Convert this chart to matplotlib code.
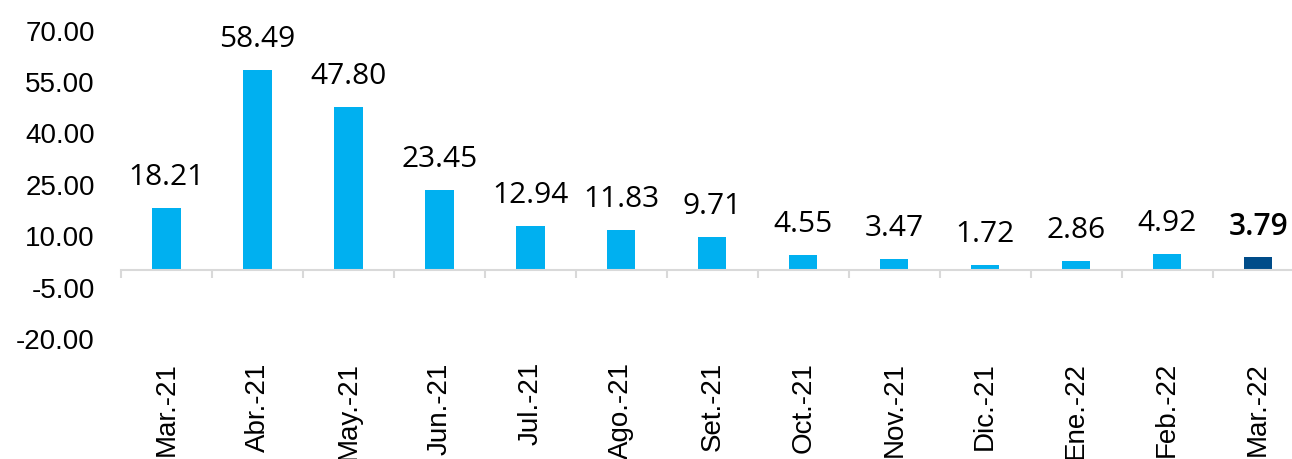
import matplotlib.pyplot as plt
import numpy as np

months = ["Mar.-21", "Abr.-21", "May.-21", "Jun.-21", "Jul.-21", "Ago.-21",
          "Set.-21", "Oct.-21", "Nov.-21", "Dic.-21", "Ene.-22", "Feb.-22",
          "Mar.-22"]
values = [18.21, 58.49, 47.80, 23.45, 12.94, 11.83, 9.71, 4.55, 3.47, 1.72,
          2.86, 4.92, 3.79]
yticks = [-20, -5, 10, 25, 40, 55, 70]

light = "#00B0F0"
dark = "#004C89"


def main():
    fig = plt.figure(figsize=(12.92, 4.59), dpi=100)
    ax = fig.add_axes([0.0937, 0.2614, 1.009 - 0.0937, 0.6721])
    x = np.arange(len(months))
    colors = [light] * (len(months) - 1) + [dark]
    ax.bar(x, values, width=0.31, color=colors, zorder=2)

    ax.set_xlim(-0.5, len(months) - 0.5)
    ax.set_ylim(-20, 70)
    ax.set_yticks(yticks)
    ax.set_yticklabels(["%.2f" % v for v in yticks], fontsize=20,
                       family="Liberation Sans")
    ax.tick_params(axis="y", length=0, pad=19)

    # category axis sits on zero, with tick marks between the categories
    for s in ["top", "right", "left"]:
        ax.spines[s].set_visible(False)
    ax.spines["bottom"].set_position(("data", 0))
    ax.spines["bottom"].set_color("#D9D9D9")
    ax.spines["bottom"].set_linewidth(1.5)
    ax.set_xticks(x)
    ax.set_xticklabels(months, rotation=90, fontsize=20,
                       family="Liberation Sans", va="top")
    ax.tick_params(axis="x", which="major", length=0, pad=66)
    ax.set_xticks(np.arange(len(months) + 1) - 0.5, minor=True)
    ax.tick_params(axis="x", which="minor", length=6, width=1.5,
                   color="#D9D9D9", direction="out")

    for i, v in enumerate(values):
        last = i == len(values) - 1
        ax.annotate("%.2f" % v, (i, v), xytext=(0, 22), textcoords="offset points",
                    ha="center", va="center", fontsize=21.5, family="Open Sans",
                    fontweight="semibold" if last else "normal", color="black")

    fig.savefig("out.png", dpi=100)


if __name__ == "__main__":
    main()
